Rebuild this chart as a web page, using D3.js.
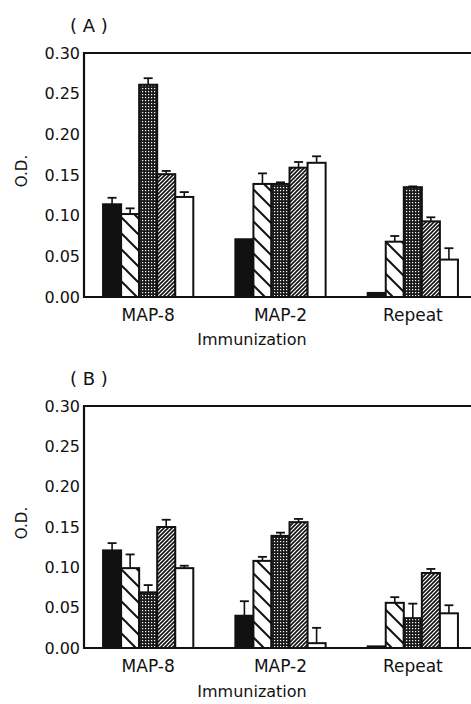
<!DOCTYPE html>
<html>
<head>
<meta charset="utf-8">
<script src="https://cdn.jsdelivr.net/npm/d3@7"></script>
<style>
  body { margin: 0; background: #fff; }
  text { font-family: "DejaVu Sans", sans-serif; fill: #111; }
</style>
</head>
<body>
<div id="plot"></div>
<script>
// categories and series
var groups = ["MAP-8", "MAP-2", "Repeat"];
var series = ["solid", "wide", "dots", "fine", "open"];
var yTicks = [0, 0.05, 0.10, 0.15, 0.20, 0.25, 0.30];

// panel A values (O.D.) and error bar sizes, one array per series
var aSolid = [0.114, 0.071, 0.005], aSolidErr = [0.008, 0, 0];
var aWide  = [0.102, 0.139, 0.068], aWideErr  = [0.007, 0.013, 0.007];
var aDots  = [0.261, 0.139, 0.135], aDotsErr  = [0.008, 0.002, 0.001];
var aFine  = [0.151, 0.159, 0.093], aFineErr  = [0.004, 0.007, 0.005];
var aOpen  = [0.123, 0.165, 0.046], aOpenErr  = [0.006, 0.008, 0.014];

// panel B
var bSolid = [0.121, 0.040, 0.002], bSolidErr = [0.009, 0.018, 0];
var bWide  = [0.099, 0.108, 0.056], bWideErr  = [0.017, 0.005, 0.007];
var bDots  = [0.069, 0.139, 0.037], bDotsErr  = [0.009, 0.004, 0.018];
var bFine  = [0.150, 0.156, 0.093], bFineErr  = [0.009, 0.004, 0.005];
var bOpen  = [0.099, 0.006, 0.043], bOpenErr  = [0.003, 0.019, 0.010];

var panelA = [aSolid, aWide, aDots, aFine, aOpen];
var panelAErr = [aSolidErr, aWideErr, aDotsErr, aFineErr, aOpenErr];
var panelB = [bSolid, bWide, bDots, bFine, bOpen];
var panelBErr = [bSolidErr, bWideErr, bDotsErr, bFineErr, bOpenErr];

var w = 471, h = 704;
var svg = d3.select("#plot").append("svg")
    .attr("width", w).attr("height", h);

// fill patterns
var defs = svg.append("defs");
var pw = defs.append("pattern").attr("id", "p-wide")
    .attr("patternUnits", "userSpaceOnUse").attr("width", 16).attr("height", 16);
pw.append("rect").attr("width", 16).attr("height", 16).attr("fill", "#fff");
pw.append("path").attr("d", "M-4,-4 L20,20 M-4,12 L4,20 M12,-4 L20,4")
    .attr("stroke", "#111").attr("stroke-width", 2);

var pd = defs.append("pattern").attr("id", "p-dots")
    .attr("patternUnits", "userSpaceOnUse").attr("width", 3).attr("height", 3);
pd.append("rect").attr("width", 3).attr("height", 3).attr("fill", "#1a1a1a");
pd.append("rect").attr("x", 1).attr("y", 1).attr("width", 1.2).attr("height", 1.2).attr("fill", "#fff");

var pf = defs.append("pattern").attr("id", "p-fine")
    .attr("patternUnits", "userSpaceOnUse").attr("width", 4).attr("height", 4);
pf.append("rect").attr("width", 4).attr("height", 4).attr("fill", "#fff");
pf.append("path").attr("d", "M-1,5 L5,-1 M-1,1 L1,-1 M3,5 L5,3")
    .attr("stroke", "#111").attr("stroke-width", 1.6);

var fills = {solid: "#111", wide: "url(#p-wide)", dots: "url(#p-dots)", fine: "url(#p-fine)", open: "#fff"};

function drawPanel(vals, errs, label, yBottom, yTop, titleGap) {
    var x0 = 84;
    var g = svg.append("g");

    var xScale = d3.scaleBand().domain(groups)
        .range([x0, x0 + 393]).paddingInner(0.318).paddingOuter(0.144);
    var xInner = d3.scaleBand().domain(series)
        .range([0, xScale.bandwidth()]).padding(0);
    var yScale = d3.scaleLinear().domain([0, 0.3]).range([yBottom, yTop]);

    var yAxis = d3.axisLeft(yScale).tickValues(yTicks)
        .tickFormat(d3.format(".2f")).tickSize(0).tickPadding(4);
    var ya = g.append("g").attr("transform", "translate(" + x0 + ",0)").call(yAxis);
    ya.select(".domain").remove();
    ya.selectAll("text").style("font-size", "16px").attr("fill", "#111");

    // frame: left, top, bottom
    g.append("path")
        .attr("d", "M" + (w + 5) + "," + yTop + " H" + x0 + " V" + yBottom + " H" + (w + 5))
        .attr("fill", "none").attr("stroke", "#111").attr("stroke-width", 2.2);

    var rows = [];
    series.forEach(function (s, i) {
        groups.forEach(function (c, j) {
            rows.push({s: s, c: c, v: vals[i][j], e: errs[i][j]});
        });
    });

    // error bars (upward only)
    var eb = g.selectAll(".eb").data(rows.filter(function (d) { return d.e > 0; }))
        .enter().append("g");
    eb.append("line")
        .attr("x1", function (d) { return xScale(d.c) + xInner(d.s) + xInner.bandwidth() / 2; })
        .attr("x2", function (d) { return xScale(d.c) + xInner(d.s) + xInner.bandwidth() / 2; })
        .attr("y1", function (d) { return yScale(d.v); })
        .attr("y2", function (d) { return yScale(d.v + d.e); })
        .attr("stroke", "#111").attr("stroke-width", 1.6);
    eb.append("line")
        .attr("x1", function (d) { return xScale(d.c) + xInner(d.s) + xInner.bandwidth() / 2 - 4.5; })
        .attr("x2", function (d) { return xScale(d.c) + xInner(d.s) + xInner.bandwidth() / 2 + 4.5; })
        .attr("y1", function (d) { return yScale(d.v + d.e); })
        .attr("y2", function (d) { return yScale(d.v + d.e); })
        .attr("stroke", "#111").attr("stroke-width", 1.8);

    g.selectAll(".bar").data(rows).enter().append("rect")
        .attr("x", function (d) { return xScale(d.c) + xInner(d.s); })
        .attr("width", xInner.bandwidth())
        .attr("y", function (d) { return yScale(d.v); })
        .attr("height", function (d) { return yBottom - yScale(d.v); })
        .attr("fill", function (d) { return fills[d.s]; })
        .attr("stroke", "#111").attr("stroke-width", 2);

    var xAxis = d3.axisBottom(xScale).tickSize(0).tickPadding(12);
    var xa = g.append("g").attr("transform", "translate(0," + yBottom + ")").call(xAxis);
    xa.select(".domain").remove();
    xa.selectAll("text").style("font-size", "17px").attr("fill", "#111");

    g.append("text").attr("x", 252).attr("y", yBottom + titleGap)
        .attr("text-anchor", "middle").style("font-size", "16px").text("Immunization");

    g.append("text")
        .attr("transform", "translate(" + 27 + "," + ((yBottom + yTop) / 2 - 4) + ") rotate(-90)")
        .attr("text-anchor", "middle").style("font-size", "15px").text("O.D.");

    g.append("text").attr("x", 70).attr("y", yTop - 21)
        .style("font-size", "18px").attr("xml:space", "preserve").text("( " + label + " )");
}

drawPanel(panelA, panelAErr, "A", 297, 53, 48);
drawPanel(panelB, panelBErr, "B", 648, 406, 49);
</script>
</body>
</html>
